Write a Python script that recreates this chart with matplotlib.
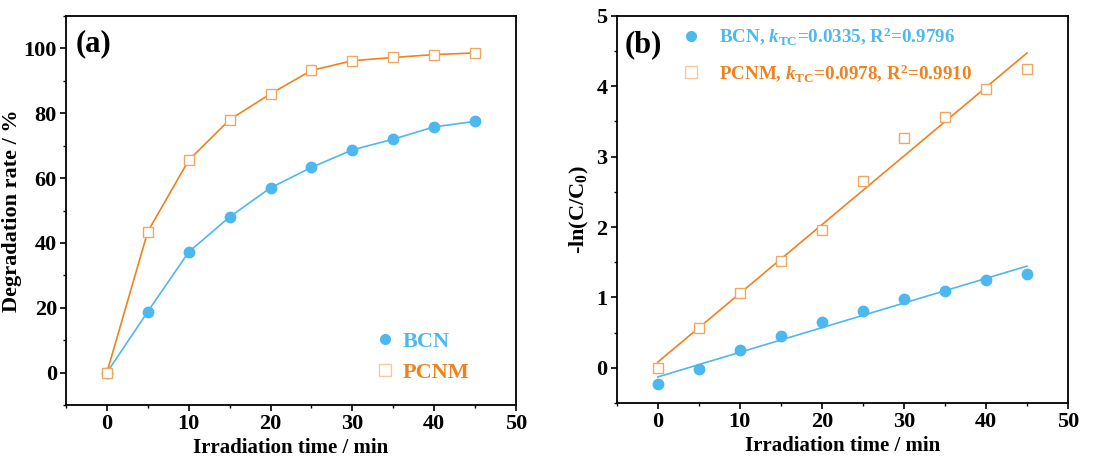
import matplotlib
matplotlib.use("Agg")
import matplotlib.pyplot as plt
import numpy as np
from matplotlib.ticker import MultipleLocator

plt.rcParams['font.family'] = ['Liberation Serif', 'DejaVu Serif']
plt.rcParams['font.weight'] = 'bold'
plt.rcParams['mathtext.fontset'] = 'custom'
plt.rcParams['mathtext.rm'] = 'Liberation Serif:bold'
plt.rcParams['mathtext.bf'] = 'Liberation Serif:bold'
plt.rcParams['mathtext.it'] = 'Liberation Serif:italic:bold'

time = [0, 5, 10, 15, 20, 25, 30, 35, 40, 45]
bcn_rate = [0, 18.8, 37.2, 48.0, 57.0, 63.3, 68.7, 72.0, 75.8, 77.5]
pcnm_rate = [0, 43.5, 65.5, 78.0, 86.0, 93.2, 96.2, 97.2, 98.1, 98.6]
bcn_ln = [-0.235, -0.014, 0.25, 0.447, 0.645, 0.81, 0.98, 1.096, 1.247, 1.327]
pcnm_ln = [0.0, 0.565, 1.059, 1.515, 1.953, 2.659, 3.27, 3.567, 3.958, 4.245]
bcn_fit = (0.0350, -0.13)     # slope, intercept of drawn fit
pcnm_fit = (0.0976, 0.08)

blue = '#4DB8F0'
orange = '#F0821E'
sq_edge = '#F0A860'

fig = plt.figure(figsize=(11.18, 4.65), dpi=100)
axa = fig.add_axes([0.059, 0.129, 0.4025, 0.8366])
axb = fig.add_axes([0.5516, 0.1333, 0.4037, 0.8327])

def style(ax):
    for s in ax.spines.values():
        s.set_linewidth(1.3)
    ax.tick_params(which='major', direction='out', length=4.5, width=1.2, labelsize=16, pad=2)
    ax.tick_params(which='minor', direction='out', length=2.5, width=1.0)
    for lab in ax.get_xticklabels() + ax.get_yticklabels():
        lab.set_fontweight('bold')

# (a)
axa.plot(time, bcn_rate, '-', color=blue, lw=1.2, marker='o', ms=7.5,
         mfc=blue, mec=blue, label='BCN')
axa.plot(time, pcnm_rate, '-', color=orange, lw=1.2, marker='s', ms=7,
         mfc='white', mec=sq_edge, mew=1.0, label='PCNM')
axa.set_xlim(-5, 50)
axa.set_ylim(-10, 110)
axa.xaxis.set_major_locator(MultipleLocator(10))
axa.xaxis.set_minor_locator(MultipleLocator(5))
axa.yaxis.set_major_locator(MultipleLocator(20))
axa.yaxis.set_minor_locator(MultipleLocator(10))
axa.set_xlabel('Irradiation time / min', fontsize=15, fontweight='bold', labelpad=3)
axa.set_ylabel('Degradation rate / %', fontsize=16, fontweight='bold', labelpad=1)
axa.text(0.022, 0.93, '(a)', transform=axa.transAxes, fontsize=22, fontweight='bold',
         va='center', ha='left')
style(axa)
ha = [axa.plot([], [], 'o', color=blue, ms=7)[0],
      axa.plot([], [], 's', mfc='white', mec='#F5C89A', ms=9, mew=1.0)[0]]
leg = axa.legend(ha, ['BCN', 'PCNM'], loc='lower right', bbox_to_anchor=(0.942, 0.006),
                 frameon=False, fontsize=16, handletextpad=0.3, labelspacing=0.45,
                 handlelength=1.0)
for t, c in zip(leg.get_texts(), [blue, orange]):
    t.set_color(c)
    t.set_fontweight('bold')

# (b)
xf = np.array([time[0], time[-1]])
axb.plot(time, bcn_ln, 'o', color=blue, ms=7.5, zorder=3)
axb.plot(xf, bcn_fit[0] * xf + bcn_fit[1], '-', color=blue, lw=1.2)
axb.plot(time, pcnm_ln, 's', mfc='white', mec=sq_edge, ms=7.5, mew=1.0, zorder=3)
axb.plot(xf, pcnm_fit[0] * xf + pcnm_fit[1], '-', color=orange, lw=1.2)
axb.set_xlim(-5, 50)
axb.set_ylim(-0.5, 5)
axb.xaxis.set_major_locator(MultipleLocator(10))
axb.xaxis.set_minor_locator(MultipleLocator(5))
axb.yaxis.set_major_locator(MultipleLocator(1))
axb.yaxis.set_minor_locator(MultipleLocator(0.5))
axb.set_xlabel('Irradiation time / min', fontsize=15, fontweight='bold', labelpad=3)
axb.set_ylabel(r'-ln(C/C$_0$)', fontsize=16, fontweight='bold', labelpad=4)
axb.text(0.018, 0.925, '(b)', transform=axb.transAxes, fontsize=22, fontweight='bold',
         va='center', ha='left')
style(axb)
hb = [axb.plot([], [], 'o', color=blue, ms=7)[0],
      axb.plot([], [], 's', mfc='white', mec='#F5C89A', ms=9, mew=1.0)[0]]
legb = axb.legend(hb, [r'BCN, $k_{\rm TC}$=0.0335, R$^{2}$=0.9796',
                       r'PCNM, $k_{\rm TC}$=0.0978, R$^{2}$=0.9910'],
                  loc='upper left', bbox_to_anchor=(0.105, 1.02), frameon=False,
                  fontsize=13.7, handletextpad=1.0, labelspacing=0.78, handlelength=1.0)
for t, c in zip(legb.get_texts(), [blue, orange]):
    t.set_color(c)
    t.set_fontweight('bold')

fig.savefig('out.png', dpi=100)
